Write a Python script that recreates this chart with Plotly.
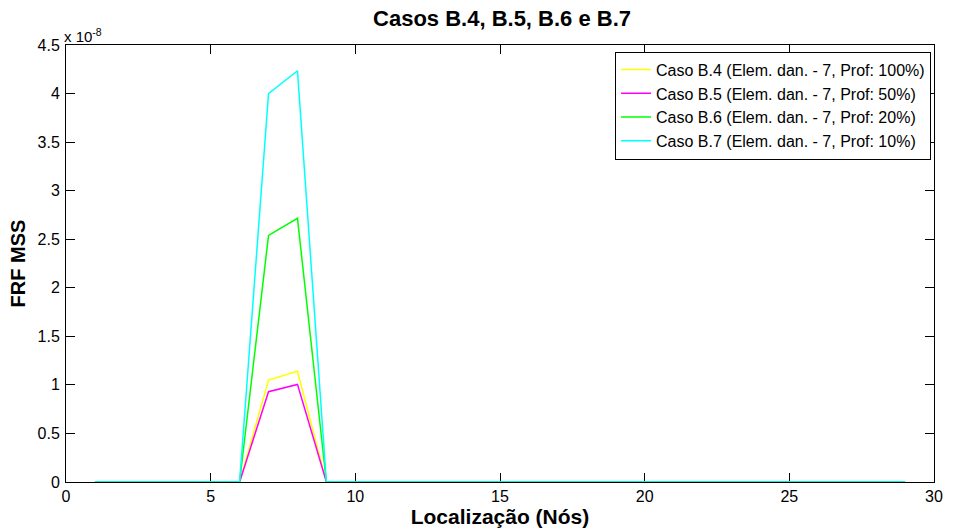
import plotly.graph_objects as go

# Node locations and FRF MSS values (in units of 1e-8)
nodes = list(range(1, 30))
scale = 1e-8
peak7 = {"B.4": 1.05, "B.5": 0.93, "B.6": 2.54, "B.7": 4.00}
peak8 = {"B.4": 1.14, "B.5": 1.005, "B.6": 2.715, "B.7": 4.235}

def series(case):
    vals = [0.0] * len(nodes)
    vals[nodes.index(7)] = peak7[case]
    vals[nodes.index(8)] = peak8[case]
    return [v * scale for v in vals]

cases = ["B.4", "B.5", "B.6", "B.7"]
depths = ["100%", "50%", "20%", "10%"]
colors = ["#ffff00", "#ff00ff", "#00ff00", "#00ffff"]

y_ticks = [0, 0.5, 1, 1.5, 2, 2.5, 3, 3.5, 4, 4.5]
y_tick_text = ["0", "0.5", "1", "1.5", "2", "2.5", "3", "3.5", "4", "4.5"]
x_ticks = [0, 5, 10, 15, 20, 25, 30]

fig = go.Figure()
for case, depth, color in zip(cases, depths, colors):
    fig.add_trace(go.Scatter(
        x=nodes, y=series(case), mode="lines",
        line=dict(color=color, width=1.5),
        name=f"Caso {case} (Elem. dan. - 7, Prof: {depth})",
    ))

font_family = "Liberation Sans, Arial, sans-serif"
axis_common = dict(
    showgrid=False, zeroline=False, showline=True, linecolor="black",
    linewidth=1, mirror="allticks", ticks="inside", ticklen=9,
    tickcolor="black", tickfont=dict(size=16, color="black"),
    layer="below traces",
)

fig.update_layout(
    width=955, height=532,
    margin=dict(l=66, r=17, t=45, b=47),
    paper_bgcolor="white", plot_bgcolor="white",
    font=dict(family=font_family, color="black"),
    title=dict(text="<b>Casos B.4, B.5, B.6 e B.7</b>", x=0.5257, xanchor="center",
               y=0.966, yanchor="middle", font=dict(size=22)),
    xaxis=dict(range=[0, 30], tickvals=x_ticks, ticklabelstandoff=0,
               title=dict(text="<b>Localização (Nós)</b>", font=dict(size=21), standoff=0),
               **axis_common),
    yaxis=dict(range=[0, 4.5 * scale], tickvals=[v * scale for v in y_ticks],
               ticktext=y_tick_text, ticklabelstandoff=2,
               title=dict(text="<b>FRF MSS</b>", font=dict(size=20), standoff=6),
               **axis_common),
    legend=dict(x=0.9966, xanchor="right", y=0.985, yanchor="top",
                bgcolor="white", bordercolor="black", borderwidth=1,
                font=dict(size=16, color="black"), tracegroupgap=0,
                itemwidth=30),
    showlegend=True,
)

fig.add_annotation(
    x=0, y=1, xref="paper", yref="paper", xanchor="left", yanchor="bottom",
    text="x 10<sup>-8</sup>", showarrow=False, font=dict(size=15, color="black"),
    xshift=-4, yshift=-2,
)

fig.write_html("out.html")
